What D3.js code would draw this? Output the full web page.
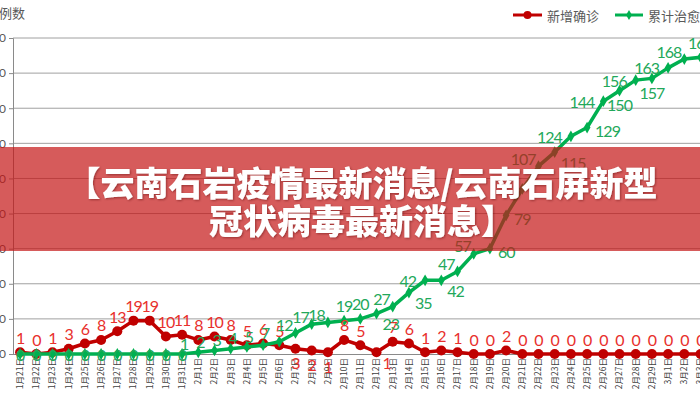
<!DOCTYPE html>
<html><head><meta charset="utf-8">
<script src="https://cdn.jsdelivr.net/npm/d3@7"></script>
<style>html,body{margin:0;padding:0;background:#fff;overflow:hidden}</style>
</head><body><svg id="c" width="700" height="400"></svg>
<script>
const dates = ["1月21日","1月22日","1月23日","1月24日","1月25日","1月26日","1月27日","1月28日","1月29日","1月30日","1月31日",
"2月1日","2月2日","2月3日","2月4日","2月5日","2月6日","2月7日","2月8日","2月9日","2月10日",
"2月11日","2月12日","2月13日","2月14日","2月15日","2月16日","2月17日","2月18日","2月19日","2月20日",
"2月21日","2月22日","2月23日","2月24日","2月25日","2月26日","2月27日","2月28日","2月29日",
"3月1日","3月2日","3月3日"];
const newCases = [1,0,1,3,6,8,13,19,19,10,11,
  8,10,8,5,6,5,3,2,1,8,
  5,1,7,6,1,2,1,0,0,2,
  0,0,0,0,0,0,0,0,0,
  0,0,0];
const cured = [0,0,0,0,0,0,0,0,0,0,0,
  1,2,3,4,5,7,12,17,18,19,
  20,23,27,35,42,42,47,57,60,79,
  94,107,115,124,129,144,150,156,157,
  163,168,169];
const yTicks = [0,20,40,60,80,100,120,140,160,180];
const seriesNames = ["新增确诊","累计治愈"];
const yTitle = "病例数";
const bannerLines = ["【云南石岩疫情最新消息/云南石屏新型","冠状病毒最新消息】"];
const newLabelPos = ["t","t","t","t","t","t","t","t","t","t","t","t","t","t","t","t","t",
  "b","b","b","t","t","br",
  "t","t","t","t","t","t","t","t","t","t","t","t","t","t","t","t","t","t","t","t"];
const curedLabelPos = ["c","c","c","c","c","c","c","c","c","c","c",
  "ul","ul","ul","ul","ul","ul","tl","tl","tl","t","t",
  "br","tl","br","l","br","tl","tl","r","r","n",
  "tl","br","l","r","l","b","l","b","l","tl","t"];

const svg = d3.select("#c");
const x = d3.scaleBand().domain(dates).range([12, 12 + dates.length * 16.2]).padding(0);
const y = d3.scaleLinear().domain([0, 180]).range([354, 38]);
const cx = d => x(d) + x.bandwidth() / 2;

const redLine = "#c00000", redText = "#e8302c";
const greenLine = "#00b050", greenText = "#22a85a";

// gridlines
svg.append("g").selectAll("line").data(yTicks.filter(v => v > 0)).join("line")
  .attr("x1", 13).attr("x2", 700).attr("y1", d => y(d)).attr("y2", d => y(d))
  .attr("stroke", "#a0a0a0").attr("stroke-width", 1);

// y axis
const yAxis = svg.append("g").attr("transform", "translate(13,0)")
  .call(d3.axisLeft(y).tickValues(yTicks).tickSize(4).tickPadding(3));
yAxis.select(".domain").attr("stroke", "#8a8a8a");
yAxis.selectAll(".tick line").attr("stroke", "#8a8a8a");
yAxis.selectAll("text").attr("fill", "#595959").style("font-family", "Lato, 'Liberation Sans', sans-serif").style("font-size", "12px");

// x axis
const xAxis = svg.append("g").attr("transform", "translate(0,354)")
  .call(d3.axisBottom(x).tickSize(0));
xAxis.select(".domain").attr("stroke", "#8a8a8a").attr("d", "M12,0.5H700");
xAxis.selectAll("text")
  .attr("transform", "rotate(-90)")
  .attr("text-anchor", "end")
  .attr("x", -4).attr("y", 0).attr("dy", "0.35em")
  .attr("fill", "#404040")
  .style("font-family", "'Noto Sans CJK SC', sans-serif").style("font-size", "8.5px");

// y title
svg.append("text").attr("x", 25).attr("y", 18).attr("text-anchor", "end")
  .attr("fill", "#595959").style("font-family", "'Noto Sans CJK SC', sans-serif").style("font-size", "13px")
  .text(yTitle);

const line = d3.line().x((d, i) => cx(dates[i])).y(d => y(d));

// red series
svg.append("path").datum(newCases).attr("d", line).attr("fill", "none")
  .attr("stroke", redLine).attr("stroke-width", 3.5).attr("stroke-linejoin", "round");
svg.append("g").selectAll("circle").data(newCases).join("circle")
  .attr("cx", (d, i) => cx(dates[i])).attr("cy", d => y(d)).attr("r", 5)
  .attr("fill", redLine);

// green series
svg.append("path").datum(cured).attr("d", line).attr("fill", "none")
  .attr("stroke", greenLine).attr("stroke-width", 3.5).attr("stroke-linejoin", "round");
const diamond = d3.symbol().type(d3.symbolDiamond).size(40);
svg.append("g").selectAll("path").data(cured).join("path")
  .attr("d", diamond)
  .attr("transform", (d, i) => `translate(${cx(dates[i])},${y(d)})`)
  .attr("fill", greenLine);

const posMap = {
  c: [0, 0, "middle"], t: [0, -15, "middle"], b: [0, 14, "middle"],
  l: [-9, 0, "end"], tl: [-3, -8, "end"], ul: [-10, -9, "end"],
  r: [8, 3, "start"], br: [6, 10, "start"]
};
function labels(vals, pos, color) {
  svg.append("g").selectAll("text").data(vals.map((v, i) => ({v, i, p: pos[i]})).filter(d => d.p !== "n")).join("text")
    .attr("x", d => cx(dates[d.i]) + posMap[d.p][0])
    .attr("y", d => y(d.v) + posMap[d.p][1])
    .attr("text-anchor", d => posMap[d.p][2])
    .attr("dominant-baseline", "central")
    .attr("fill", color)
    .style("font-family", "Lato, 'Liberation Sans', sans-serif").style("font-size", "16px")
    .style("letter-spacing", "-1px")
    .text(d => d.v);
}
labels(newCases, newLabelPos, redText);
labels(cured, curedLabelPos, greenText);

// legend
const lg = svg.append("g").style("font-family", "'Noto Sans CJK SC', sans-serif").style("font-size", "13px");
lg.append("line").attr("x1", 513).attr("x2", 542).attr("y1", 15).attr("y2", 15).attr("stroke", redLine).attr("stroke-width", 3);
lg.append("circle").attr("cx", 527.5).attr("cy", 15).attr("r", 4).attr("fill", redLine);
lg.append("text").attr("x", 547).attr("y", 15).attr("dominant-baseline", "central").attr("fill", "#595959").text(seriesNames[0]);
lg.append("line").attr("x1", 615).attr("x2", 643).attr("y1", 15).attr("y2", 15).attr("stroke", greenLine).attr("stroke-width", 3);
lg.append("path").attr("d", d3.symbol().type(d3.symbolDiamond).size(30)).attr("transform", "translate(629,15)").attr("fill", greenLine);
lg.append("text").attr("x", 648).attr("y", 15).attr("dominant-baseline", "central").attr("fill", "#595959").text(seriesNames[1]);

// banner
const defs = svg.append("defs");
const f = defs.append("filter").attr("id", "sh").attr("x", "-5%").attr("y", "-20%").attr("width", "110%").attr("height", "140%");
f.append("feDropShadow").attr("dx", 1).attr("dy", 1).attr("stdDeviation", 1).attr("flood-color", "#500000").attr("flood-opacity", 0.45);
svg.append("rect").attr("x", 0).attr("y", 147).attr("width", 700).attr("height", 104)
  .attr("fill", "rgba(196,22,22,0.7)");
svg.append("g").selectAll("text").data(bannerLines).join("text")
  .attr("x", 362).attr("y", (d, i) => 181 + i * 38)
  .attr("text-anchor", "middle").attr("dominant-baseline", "central")
  .attr("fill", "#fff").attr("filter", "url(#sh)")
  .style("font-family", "'Noto Sans CJK SC', sans-serif").style("font-weight", 900).style("font-size", "34px")
  .text(d => d);
</script></body></html>
